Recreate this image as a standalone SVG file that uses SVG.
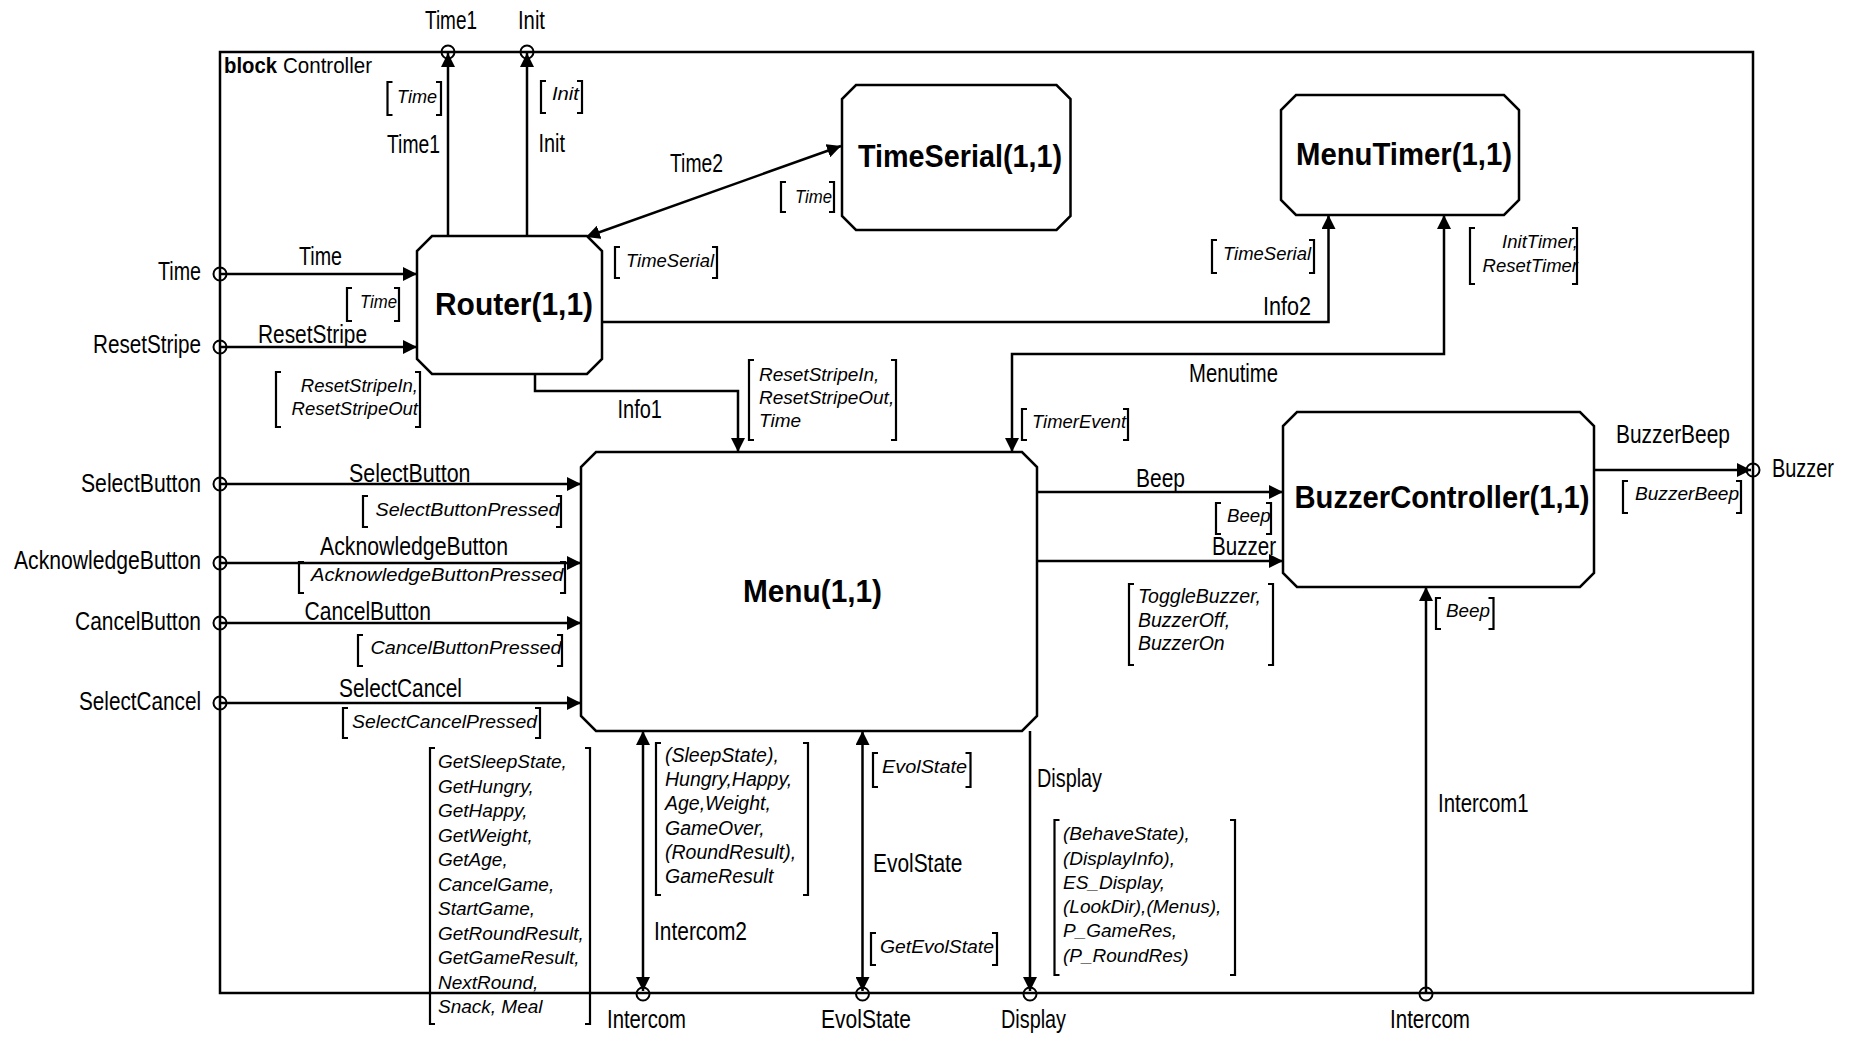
<svg xmlns="http://www.w3.org/2000/svg" width="1850" height="1037" viewBox="0 0 1850 1037">
<style>
.ln{fill:none;stroke:#000;stroke-width:2.5}
.nd{fill:#fff;stroke:#000;stroke-width:2.5}
.pt{fill:none;stroke:#000;stroke-width:2}
.br{fill:none;stroke:#000;stroke-width:2.2}
text{font-family:"Liberation Sans",Arial,sans-serif;fill:#000}
.lb{font-size:26px}
.it{font-size:19px;font-style:italic}
.bd{font-size:32px;font-weight:bold}
</style>
<defs>
<marker id="ah" viewBox="0 0 14 14" refX="14" refY="7" markerWidth="14" markerHeight="14" orient="auto-start-reverse" markerUnits="userSpaceOnUse">
<path d="M0,0 L14,7 L0,14 z" fill="#000"/>
</marker>
</defs>
<rect width="1850" height="1037" fill="#fff"/>

<g id="frame">
<rect x="220" y="52" width="1533" height="941" class="ln"/>
<text x="224" y="73" style="font-size:22px;font-weight:bold" textLength="53" lengthAdjust="spacingAndGlyphs">block</text>
<text x="283" y="73" style="font-size:22px" textLength="89" lengthAdjust="spacingAndGlyphs">Controller</text>
</g>

<g id="connectors">
<path class="ln" d="M448,236 V53" marker-end="url(#ah)"/>
<path class="ln" d="M527,236 V53" marker-end="url(#ah)"/>
<path class="ln" d="M220,274 H417" marker-end="url(#ah)"/>
<path class="ln" d="M220,347 H417" marker-end="url(#ah)"/>
<path class="ln" d="M586,237 L841,146" marker-start="url(#ah)" marker-end="url(#ah)"/>
<path class="ln" d="M602,322 H1328.5 V215" marker-end="url(#ah)"/>
<path class="ln" d="M535,374 V391 H738 V452" marker-end="url(#ah)"/>
<path class="ln" d="M1444,215 V354 H1012 V452" marker-start="url(#ah)" marker-end="url(#ah)"/>
<path class="ln" d="M220,484 H581" marker-end="url(#ah)"/>
<path class="ln" d="M220,563 H581" marker-end="url(#ah)"/>
<path class="ln" d="M220,623 H581" marker-end="url(#ah)"/>
<path class="ln" d="M220,703 H581" marker-end="url(#ah)"/>
<path class="ln" d="M1037,492 H1283" marker-end="url(#ah)"/>
<path class="ln" d="M1037,561 H1283" marker-end="url(#ah)"/>
<path class="ln" d="M1594,470 H1751" marker-end="url(#ah)"/>
<path class="ln" d="M643,731 V991" marker-start="url(#ah)" marker-end="url(#ah)"/>
<path class="ln" d="M862.5,731 V991" marker-start="url(#ah)" marker-end="url(#ah)"/>
<path class="ln" d="M1030,731 V991" marker-end="url(#ah)"/>
<path class="ln" d="M1426,993 V587" marker-end="url(#ah)"/>

<g id="ports">
<circle class="pt" cx="220" cy="274" r="6.5"/>
<circle class="pt" cx="220" cy="347" r="6.5"/>
<circle class="pt" cx="220" cy="484" r="6.5"/>
<circle class="pt" cx="220" cy="563" r="6.5"/>
<circle class="pt" cx="220" cy="623" r="6.5"/>
<circle class="pt" cx="220" cy="703" r="6.5"/>
<circle class="pt" cx="448" cy="52" r="6.5"/>
<circle class="pt" cx="527" cy="52" r="6.5"/>
<circle class="pt" cx="1753" cy="470" r="6.5"/>
<circle class="pt" cx="643" cy="994" r="6.5"/>
<circle class="pt" cx="862.5" cy="994" r="6.5"/>
<circle class="pt" cx="1030" cy="994" r="6.5"/>
<circle class="pt" cx="1426" cy="994" r="6.5"/>
</g>

<g id="brackets">
<path class="br" d="M392.5,82 H387.5 V115 H392.5 M436,82 H441 V115 H436"/>
<path class="br" d="M546,81 H541 V113 H546 M577,81 H582 V113 H577"/>
<path class="br" d="M352,288 H347 V321 H352 M394,288 H399 V321 H394"/>
<path class="br" d="M281,372 H276 V427 H281 M415,372 H420 V427 H415"/>
<path class="br" d="M786,182 H781 V212 H786 M829,182 H834 V212 H829"/>
<path class="br" d="M620,247 H615 V278 H620 M712,247 H717 V278 H712"/>
<path class="br" d="M1217,240 H1212 V273 H1217 M1309,240 H1314 V273 H1309"/>
<path class="br" d="M1475,228 H1470 V284 H1475 M1572,228 H1577 V284 H1572"/>
<path class="br" d="M754,360 H749 V440 H754 M891,360 H896 V440 H891"/>
<path class="br" d="M1027,409 H1022 V440 H1027 M1123,409 H1128 V440 H1123"/>
<path class="br" d="M368,496 H363 V527 H368 M556,496 H561 V527 H556"/>
<path class="br" d="M304,562 H299 V593 H304 M560,562 H565 V593 H560"/>
<path class="br" d="M363,635 H358 V666 H363 M557,635 H562 V666 H557"/>
<path class="br" d="M348,708 H343 V738 H348 M535,708 H540 V738 H535"/>
<path class="br" d="M1221,503 H1216 V534 H1221 M1266,503 H1271 V534 H1266"/>
<path class="br" d="M1134,584 H1129 V665 H1134 M1268,584 H1273 V665 H1268"/>
<path class="br" d="M1628,481 H1623 V513 H1628 M1736,481 H1741 V513 H1736"/>
<path class="br" d="M1441,598 H1436 V629 H1441 M1488.5,598 H1493.5 V629 H1488.5"/>
<path class="br" d="M435,748 H430 V1024 H435 M585,748 H590 V1024 H585"/>
<path class="br" d="M661,743 H656 V895 H661 M803,743 H808 V895 H803"/>
<path class="br" d="M878,753 H873 V787 H878 M965.5,753 H970.5 V787 H965.5"/>
<path class="br" d="M876,933 H871 V965 H876 M992,933 H997 V965 H992"/>
<path class="br" d="M1059.5,820 H1054.5 V975 H1059.5 M1230,820 H1235 V975 H1230"/>
</g>

<g id="labels">
<text class="lb" x="425" y="29" textLength="52" lengthAdjust="spacingAndGlyphs">Time1</text>
<text class="lb" x="518" y="29" textLength="27" lengthAdjust="spacingAndGlyphs">Init</text>
<text class="lb" x="387" y="153" textLength="53" lengthAdjust="spacingAndGlyphs">Time1</text>
<text class="lb" x="538.5" y="152" textLength="26.5" lengthAdjust="spacingAndGlyphs">Init</text>
<text class="lb" x="158" y="280" textLength="43" lengthAdjust="spacingAndGlyphs">Time</text>
<text class="lb" x="299" y="265" textLength="43" lengthAdjust="spacingAndGlyphs">Time</text>
<text class="lb" x="93" y="353" textLength="108" lengthAdjust="spacingAndGlyphs">ResetStripe</text>
<text class="lb" x="258" y="343" textLength="109" lengthAdjust="spacingAndGlyphs">ResetStripe</text>
<text class="lb" x="670" y="172" textLength="53" lengthAdjust="spacingAndGlyphs">Time2</text>
<text class="lb" x="617.5" y="418" textLength="44.5" lengthAdjust="spacingAndGlyphs">Info1</text>
<text class="lb" x="1263" y="315" textLength="48" lengthAdjust="spacingAndGlyphs">Info2</text>
<text class="lb" x="1189" y="382" textLength="89" lengthAdjust="spacingAndGlyphs">Menutime</text>
<text class="lb" x="81" y="492" textLength="120" lengthAdjust="spacingAndGlyphs">SelectButton</text>
<text class="lb" x="349" y="482" textLength="121.5" lengthAdjust="spacingAndGlyphs">SelectButton</text>
<text class="lb" x="14" y="569" textLength="187" lengthAdjust="spacingAndGlyphs">AcknowledgeButton</text>
<text class="lb" x="320" y="555" textLength="188" lengthAdjust="spacingAndGlyphs">AcknowledgeButton</text>
<text class="lb" x="75" y="630" textLength="126" lengthAdjust="spacingAndGlyphs">CancelButton</text>
<text class="lb" x="304.5" y="620" textLength="126.5" lengthAdjust="spacingAndGlyphs">CancelButton</text>
<text class="lb" x="79" y="710" textLength="122" lengthAdjust="spacingAndGlyphs">SelectCancel</text>
<text class="lb" x="339" y="697" textLength="123" lengthAdjust="spacingAndGlyphs">SelectCancel</text>
<text class="lb" x="1136" y="487" textLength="49" lengthAdjust="spacingAndGlyphs">Beep</text>
<text class="lb" x="1212" y="555" textLength="64" lengthAdjust="spacingAndGlyphs">Buzzer</text>
<text class="lb" x="1616" y="443" textLength="114" lengthAdjust="spacingAndGlyphs">BuzzerBeep</text>
<text class="lb" x="1772" y="477" textLength="62" lengthAdjust="spacingAndGlyphs">Buzzer</text>
<text class="lb" x="1037" y="787" textLength="65" lengthAdjust="spacingAndGlyphs">Display</text>
<text class="lb" x="873" y="872" textLength="89.5" lengthAdjust="spacingAndGlyphs">EvolState</text>
<text class="lb" x="654" y="940" textLength="93" lengthAdjust="spacingAndGlyphs">Intercom2</text>
<text class="lb" x="1438" y="812" textLength="90.5" lengthAdjust="spacingAndGlyphs">Intercom1</text>
<text class="lb" x="607" y="1028" textLength="79" lengthAdjust="spacingAndGlyphs">Intercom</text>
<text class="lb" x="821" y="1028" textLength="90" lengthAdjust="spacingAndGlyphs">EvolState</text>
<text class="lb" x="1001" y="1028" textLength="65" lengthAdjust="spacingAndGlyphs">Display</text>
<text class="lb" x="1390" y="1028" textLength="80" lengthAdjust="spacingAndGlyphs">Intercom</text>

<text class="it" x="397" y="103" textLength="40" lengthAdjust="spacingAndGlyphs">Time</text>
<text class="it" x="552" y="100" textLength="27" lengthAdjust="spacingAndGlyphs">Init</text>
<text class="it" x="360" y="308" textLength="37" lengthAdjust="spacingAndGlyphs">Time</text>
<text class="it" x="795" y="203" textLength="37" lengthAdjust="spacingAndGlyphs">Time</text>
<text class="it" x="626" y="267" textLength="88" lengthAdjust="spacingAndGlyphs">TimeSerial</text>
<text class="it" x="1223" y="260" textLength="88" lengthAdjust="spacingAndGlyphs">TimeSerial</text>
<text class="it" x="1032" y="428" textLength="94" lengthAdjust="spacingAndGlyphs">TimerEvent</text>
<text class="it" x="375.5" y="516" textLength="184" lengthAdjust="spacingAndGlyphs">SelectButtonPressed</text>
<text class="it" x="311" y="581" textLength="252.5" lengthAdjust="spacingAndGlyphs">AcknowledgeButtonPressed</text>
<text class="it" x="370.5" y="654" textLength="191" lengthAdjust="spacingAndGlyphs">CancelButtonPressed</text>
<text class="it" x="352" y="728" textLength="185" lengthAdjust="spacingAndGlyphs">SelectCancelPressed</text>
<text class="it" x="1227" y="522" textLength="43.5" lengthAdjust="spacingAndGlyphs">Beep</text>
<text class="it" x="1635" y="500" textLength="104" lengthAdjust="spacingAndGlyphs">BuzzerBeep</text>
<text class="it" x="1446" y="617" textLength="44" lengthAdjust="spacingAndGlyphs">Beep</text>
<text class="it" x="882" y="773" textLength="85" lengthAdjust="spacingAndGlyphs">EvolState</text>
<text class="it" x="880" y="953" textLength="114" lengthAdjust="spacingAndGlyphs">GetEvolState</text>

<text class="it" style="font-size:18.5px" text-anchor="end"><tspan x="418" y="392">ResetStripeIn,</tspan><tspan x="418" y="415">ResetStripeOut</tspan></text>
<text class="it" style="font-size:18.5px" text-anchor="end"><tspan x="1578" y="248">InitTimer,</tspan><tspan x="1578" y="272">ResetTimer</tspan></text>
<text class="it"><tspan x="759" y="381">ResetStripeIn,</tspan><tspan x="759" y="404">ResetStripeOut,</tspan><tspan x="759" y="427">Time</tspan></text>
<text class="it" style="font-size:19.5px"><tspan x="1138" y="603">ToggleBuzzer,</tspan><tspan x="1138" y="627">BuzzerOff,</tspan><tspan x="1138" y="650">BuzzerOn</tspan></text>
<text class="it"><tspan x="438" y="768">GetSleepState,</tspan><tspan x="438" y="792.5">GetHungry,</tspan><tspan x="438" y="817">GetHappy,</tspan><tspan x="438" y="841.5">GetWeight,</tspan><tspan x="438" y="866">GetAge,</tspan><tspan x="438" y="890.5">CancelGame,</tspan><tspan x="438" y="915">StartGame,</tspan><tspan x="438" y="939.5">GetRoundResult,</tspan><tspan x="438" y="964">GetGameResult,</tspan><tspan x="438" y="988.5">NextRound,</tspan><tspan x="438" y="1013">Snack, Meal</tspan></text>
<text class="it" style="font-size:19.5px"><tspan x="665" y="762">(SleepState),</tspan><tspan x="665" y="786">Hungry,Happy,</tspan><tspan x="665" y="810">Age,Weight,</tspan><tspan x="665" y="835">GameOver,</tspan><tspan x="665" y="859">(RoundResult),</tspan><tspan x="665" y="883">GameResult</tspan></text>
<text class="it"><tspan x="1063" y="840">(BehaveState),</tspan><tspan x="1063" y="864.5">(DisplayInfo),</tspan><tspan x="1063" y="888.5">ES_Display,</tspan><tspan x="1063" y="913">(LookDir),(Menus),</tspan><tspan x="1063" y="937">P_GameRes,</tspan><tspan x="1063" y="961.5">(P_RoundRes)</tspan></text>
</g>
</g>

<g id="Router">
<path class="nd" d="M432,236 H587 L602,251 V359 L587,374 H432 L417,359 V251 Z"/>
<text class="bd" x="435" y="315" textLength="158" lengthAdjust="spacingAndGlyphs">Router(1,1)</text>
</g>
<g id="TimeSerial">
<path class="nd" d="M856,85 H1056.5 L1070.5,99 V216 L1056.5,230 H856 L842,216 V99 Z"/>
<text class="bd" x="858" y="167" textLength="204" lengthAdjust="spacingAndGlyphs">TimeSerial(1,1)</text>
</g>
<g id="MenuTimer">
<path class="nd" d="M1296,95 H1504 L1519,110 V200 L1504,215 H1296 L1281,200 V110 Z"/>
<text class="bd" x="1296" y="165" textLength="216" lengthAdjust="spacingAndGlyphs">MenuTimer(1,1)</text>
</g>
<g id="Menu">
<path class="nd" d="M596,452 H1022 L1037,467 V716 L1022,731 H596 L581,716 V467 Z"/>
<text class="bd" x="743" y="602" textLength="139" lengthAdjust="spacingAndGlyphs">Menu(1,1)</text>
</g>
<g id="BuzzerController">
<path class="nd" d="M1297,412 H1580 L1594,426 V573 L1580,587 H1297 L1283,573 V426 Z"/>
<text class="bd" x="1294.5" y="508" textLength="295" lengthAdjust="spacingAndGlyphs">BuzzerController(1,1)</text>
</g>
</svg>
